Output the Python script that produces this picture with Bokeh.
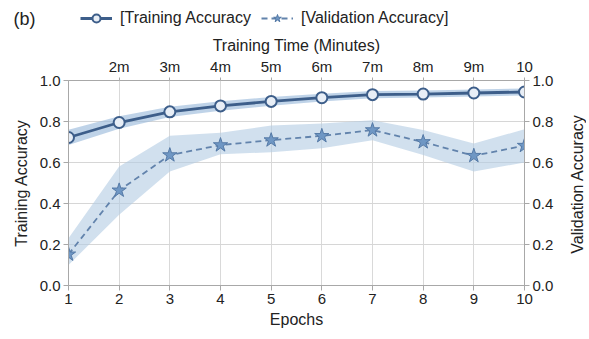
from bokeh.plotting import figure
from bokeh.layouts import column, row
from bokeh.models import (LinearAxis, FixedTicker, Legend, LegendItem, Label, Range1d,
                          PrintfTickFormatter)
from bokeh.embed import file_html
from bokeh.resources import INLINE

epochs = [1, 2, 3, 4, 5, 6, 7, 8, 9, 10]
train_acc = [0.722, 0.795, 0.847, 0.876, 0.898, 0.916, 0.931, 0.934, 0.939, 0.944]
train_lo = [0.685, 0.765, 0.822, 0.853, 0.877, 0.897, 0.913, 0.917, 0.922, 0.927]
train_hi = [0.760, 0.826, 0.872, 0.899, 0.919, 0.935, 0.949, 0.951, 0.956, 0.961]
val_acc = [0.152, 0.464, 0.636, 0.685, 0.709, 0.730, 0.758, 0.700, 0.633, 0.682]
val_lo = [0.100, 0.345, 0.556, 0.640, 0.650, 0.670, 0.709, 0.636, 0.556, 0.600]
val_hi = [0.230, 0.580, 0.730, 0.745, 0.780, 0.790, 0.806, 0.758, 0.693, 0.762]
time_ticks = [2, 3, 4, 5, 6, 7, 8, 9, 10]
time_labels = ["2m", "3m", "4m", "5m", "6m", "7m", "8m", "9m", "10"]
y_ticks = [0.0, 0.2, 0.4, 0.6, 0.8, 1.0]

FONT = "Liberation Sans"
TXT = "#222222"
AXC = "#a8a8a8"
TR_C = "#3d5e8a"
VA_C = "#6283ac"
W = 586
RW = 25          # width of the strip that carries the right-hand title
PH = 300         # main plot height
BT, BB = 50, 43  # top / bottom borders of the main plot

p = figure(width=W - RW, height=PH, x_range=Range1d(1, 10), y_range=Range1d(0, 1),
           output_backend="svg", toolbar_location=None,
           min_border_left=68, min_border_right=W - RW - 524,
           min_border_top=BT, min_border_bottom=BB)
p.outline_line_color = AXC
p.outline_line_width = 1

p.xgrid.ticker = FixedTicker(ticks=epochs)
p.ygrid.ticker = FixedTicker(ticks=y_ticks)
p.xgrid.grid_line_color = "#d9d9d9"
p.ygrid.grid_line_color = "#d6d6d6"


def style_axis(ax):
    ax.axis_line_color = AXC
    ax.major_tick_line_color = AXC
    ax.minor_tick_line_color = None
    ax.major_tick_out = 5
    ax.major_tick_in = 0
    ax.major_label_text_font = FONT
    ax.major_label_text_font_size = "15px"
    ax.major_label_text_color = TXT
    ax.axis_label_text_font = FONT
    ax.axis_label_text_font_size = "16px"
    ax.axis_label_text_font_style = "normal"
    ax.axis_label_text_color = TXT


p.xaxis.ticker = FixedTicker(ticks=epochs)
p.xaxis.axis_label = "Epochs"
p.xaxis.major_label_standoff = 3
p.xaxis.axis_label_standoff = 4
style_axis(p.xaxis[0])

p.yaxis.ticker = FixedTicker(ticks=y_ticks)
p.yaxis.axis_label = "Training Accuracy"
p.yaxis.formatter = PrintfTickFormatter(format="%.1f")
p.yaxis.major_label_standoff = 3
p.yaxis.axis_label_standoff = 7
style_axis(p.yaxis[0])

right = LinearAxis(ticker=FixedTicker(ticks=y_ticks), formatter=PrintfTickFormatter(format="%.1f"))
right.major_label_standoff = 3
style_axis(right)
p.add_layout(right, "right")

top = LinearAxis(ticker=FixedTicker(ticks=time_ticks), axis_label="Training Time (Minutes)",
                 major_label_overrides={t: l for t, l in zip(time_ticks, time_labels)})
style_axis(top)
top.major_tick_out = 3
top.major_label_standoff = 3
top.axis_label_standoff = 1
top.axis_line_color = None
p.add_layout(top, "above")

p.varea(x=epochs, y1=train_lo, y2=train_hi, fill_color="#9dbbdc", fill_alpha=0.65)
p.varea(x=epochs, y1=val_lo, y2=val_hi, fill_color="#b3cbe3", fill_alpha=0.6)

p.line(epochs, train_acc, line_color=TR_C, line_width=2.8)
p.scatter(epochs, train_acc, marker="circle", size=11, line_color=TR_C,
          line_width=2, fill_color="#e8eef6")
p.line(epochs, val_acc, line_color=VA_C, line_width=1.8, line_dash="6 4")
p.scatter(epochs, val_acc, marker="star", size=15, line_color="#5479a6",
          line_width=1, fill_color="#6f97c4")

# narrow strip to the right: its left axis carries "Validation Accuracy" (bottom-to-top)
r = figure(width=RW, height=PH, x_range=Range1d(0, 1), y_range=Range1d(0, 1),
           output_backend="svg", toolbar_location=None, x_axis_type=None,
           min_border_left=RW - 1, min_border_right=0,
           min_border_top=BT, min_border_bottom=BB)
r.outline_line_color = None
r.ygrid.visible = False
r.yaxis.ticker = FixedTicker(ticks=[])
r.yaxis.axis_label = "Validation Accuracy"
style_axis(r.yaxis[0])
r.yaxis.axis_line_color = None
r.yaxis.major_tick_out = 0
r.yaxis.major_label_standoff = 0
r.yaxis.axis_label_standoff = 0

# header with legend (renderers hold the data, but lie outside the header's view)
h = figure(width=W, height=30, x_range=Range1d(100, 101), y_range=Range1d(100, 101),
           output_backend="svg", toolbar_location=None, x_axis_type=None, y_axis_type=None,
           min_border=0, min_border_left=0, min_border_right=0,
           min_border_top=0, min_border_bottom=0)
h.outline_line_color = None
h.xgrid.visible = False
h.ygrid.visible = False

lx, bx = 12, -55
if hasattr(h, "frame_align"):
    h.frame_align = False
    p.frame_align = False
    r.frame_align = False
    lx, bx = 80, 13

h_tr_line = h.line(x=epochs, y=train_acc, line_color=TR_C, line_width=2.8)
h_tr_pts = h.scatter(x=epochs, y=train_acc, marker="circle", size=11, line_color=TR_C,
                     line_width=2, fill_color="#e8eef6")
h_va_line = h.line(x=epochs, y=val_acc, line_color=VA_C, line_width=1.8, line_dash="6 4")
h_va_pts = h.scatter(x=epochs, y=val_acc, marker="star", size=15, line_color="#5479a6",
                     line_width=1, fill_color="#6f97c4")

legend = Legend(items=[LegendItem(label="[Training Accuracy", renderers=[h_tr_line, h_tr_pts]),
                       LegendItem(label="[Validation Accuracy]", renderers=[h_va_line, h_va_pts])],
                orientation="horizontal", location=(lx, 2))
legend.padding = 0
legend.margin = 0
legend.spacing = 10
legend.glyph_width = 32
legend.glyph_height = 20
legend.label_height = 20
legend.label_standoff = 8
legend.label_text_font = FONT
legend.label_text_font_size = "16px"
legend.label_text_color = TXT
legend.border_line_color = None
legend.background_fill_alpha = 0
h.add_layout(legend, "center")

h.add_layout(Label(x=bx, y=12, x_units="screen", y_units="screen", text="(b)",
                   text_font=FONT, text_font_size="18px", text_color=TXT,
                   text_baseline="middle"))

layout = column(h, row(p, r, spacing=0), spacing=0)
open("out.html", "w").write(file_html(layout, INLINE))
